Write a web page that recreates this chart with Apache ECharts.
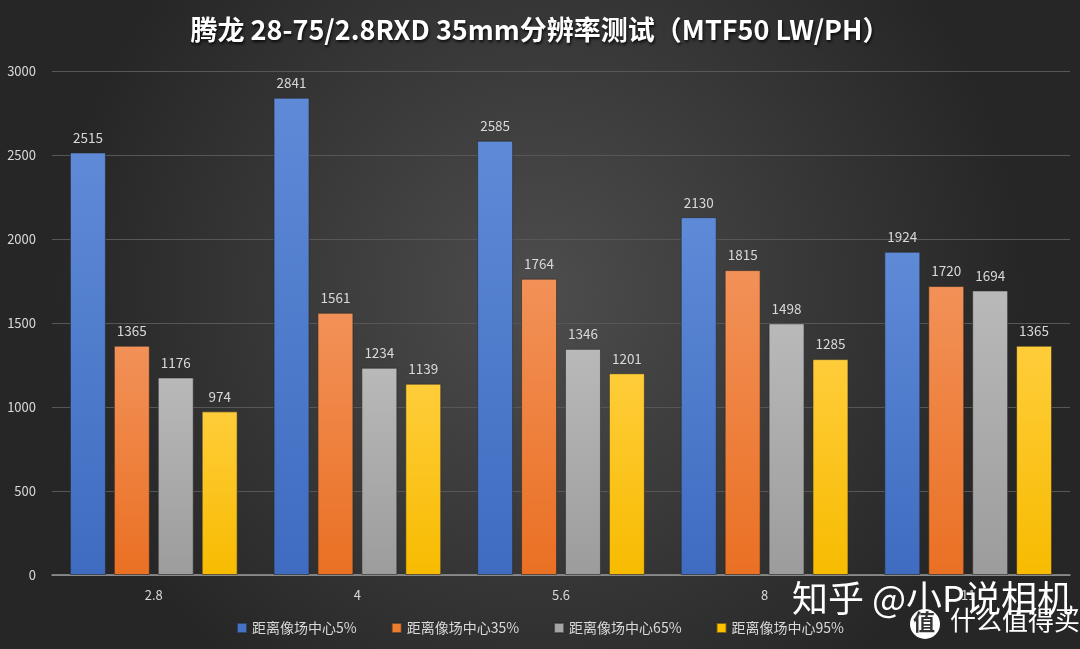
<!DOCTYPE html>
<html><head><meta charset="utf-8">
<script src="https://cdn.jsdelivr.net/npm/echarts@6/dist/echarts.min.js"></script>
<style>html,body{margin:0;padding:0;}#c{width:1080px;height:649px;}</style>
</head><body><div id="c"></div>
<script>
const categories = ['2.8', '4', '5.6', '8', '11'];
const seriesNames = ['距离像场中心5%', '距离像场中心35%', '距离像场中心65%', '距离像场中心95%'];
const center5 = [2515, 2841, 2585, 2130, 1924];
const center35 = [1365, 1561, 1764, 1815, 1720];
const center65 = [1176, 1234, 1346, 1498, 1694];
const center95 = [974, 1139, 1201, 1285, 1365];
const yTicks = [0, 500, 1000, 1500, 2000, 2500, 3000];

const values = [center5, center35, center65, center95];
const topColors = ['#5f8ad8', '#f29158', '#b9b9b9', '#ffcd3a'];
const botColors = ['#3f6cc0', '#ea7023', '#9c9c9c', '#f7bb00'];
const legendColors = ['#4472c4', '#ed7d31', '#a5a5a5', '#ffc000'];
const font = '"Noto Sans CJK SC", "Open Sans", sans-serif';

const chart = echarts.init(document.getElementById('c'));
chart.setOption({
  backgroundColor: {
    type: 'radial', x: 0.5, y: 0.45, r: 0.75,
    colorStops: [{offset: 0, color: '#4d4d4d'}, {offset: 1, color: '#262626'}]
  },
  title: {
    text: '腾龙 28-75/2.8RXD 35mm分辨率测试（MTF50 LW/PH）',
    left: 'center', top: 11,
    textStyle: {color: '#ffffff', fontSize: 27, fontWeight: 'bold', fontFamily: font,
      textShadowColor: 'rgba(0,0,0,0.8)', textShadowBlur: 3, textShadowOffsetX: 1, textShadowOffsetY: 2}
  },
  grid: {left: 52, right: 10, top: 71, bottom: 74},
  legend: {
    bottom: 9, left: 'center', itemWidth: 10, itemHeight: 10, itemGap: 34,
    icon: 'rect',
    textStyle: {color: '#d9d9d9', fontSize: 14, fontFamily: font},
    data: seriesNames.map((n, i) => ({name: n, itemStyle: {color: legendColors[i]}}))
  },
  xAxis: {
    type: 'category', data: categories,
    axisLine: {lineStyle: {color: '#9a9a9a', width: 1.5}},
    axisTick: {show: false},
    axisLabel: {color: '#d9d9d9', fontSize: 13, margin: 14, fontFamily: font}
  },
  yAxis: {
    type: 'value', min: yTicks[0], max: yTicks[yTicks.length - 1], interval: 500,
    axisLine: {show: false}, axisTick: {show: false},
    axisLabel: {color: '#d9d9d9', fontSize: 13, margin: 16, fontFamily: font,
      formatter: v => String(v)},
    splitLine: {lineStyle: {color: '#575757', width: 1}}
  },
  series: seriesNames.map((n, i) => ({
    name: n, type: 'bar', data: values[i],
    barWidth: 36, barGap: '22%', barCategoryGap: '17.5%',
    itemStyle: {
      color: {type: 'linear', x: 0, y: 0, x2: 0, y2: 1,
        colorStops: [{offset: 0, color: topColors[i]}, {offset: 1, color: botColors[i]}]},
      borderColor: 'rgba(40,40,40,0.6)', borderWidth: 1
    },
    label: {show: true, position: 'top', distance: 8, color: '#d9d9d9', fontSize: 13.5, fontFamily: font}
  })),
  graphic: [
    {type: 'text', left: 792, top: 580, z: 100,
      style: {text: '知乎 @小P说相机', fill: '#ffffff', font: '36px "Noto Sans CJK SC"',
        shadowColor: 'rgba(0,0,0,0.5)', shadowBlur: 3}},
    {type: 'circle', shape: {cx: 925, cy: 624, r: 15}, style: {fill: '#ffffff'}, z: 101},
    {type: 'text', left: 913, top: 611, z: 102,
      style: {text: '值', fill: '#333333', font: 'bold 22px "Noto Sans CJK SC"'}},
    {type: 'text', left: 950, top: 607, z: 100,
      style: {text: '什么值得买', fill: '#ffffff', font: '26px "Noto Sans CJK SC"'}}
  ]
});
</script></body></html>
